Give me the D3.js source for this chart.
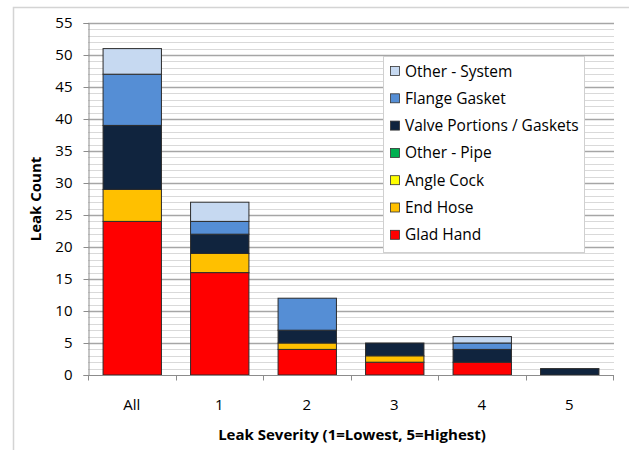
<!DOCTYPE html>
<html>
<head>
<meta charset="utf-8">
<script src="https://cdn.jsdelivr.net/npm/d3@7"></script>
<style>
  html, body { margin: 0; padding: 0; background: #fff; }
  svg { display: block; font-family: "Open Sans", "Liberation Sans", sans-serif; }
</style>
</head>
<body>
<svg id="chart" width="629" height="450"></svg>
<script>
// Leak counts by severity, stacked by component
const categories = ["All", "1", "2", "3", "4", "5"];
const seriesNames = ["Glad Hand", "End Hose", "Angle Cock", "Other - Pipe",
                     "Valve Portions / Gaskets", "Flange Gasket", "Other - System"];
const gladHand     = [24, 16, 4, 2, 2, 0];
const endHose      = [5, 3, 1, 1, 0, 0];
const angleCock    = [0, 0, 0, 0, 0, 0];
const otherPipe    = [0, 0, 0, 0, 0, 0];
const valveGaskets = [10, 3, 2, 2, 2, 1];
const flangeGasket = [8, 2, 5, 0, 1, 0];
const otherSystem  = [4, 3, 0, 0, 1, 0];
const seriesColors = ["#FF0000", "#FFC000", "#FFFF00", "#00B050", "#10243E", "#558ED5", "#C6D9F1"];
const yTicks = [0, 5, 10, 15, 20, 25, 30, 35, 40, 45, 50, 55];

const seriesValues = [gladHand, endHose, angleCock, otherPipe, valveGaskets, flangeGasket, otherSystem];
const rows = categories.map((c, i) => {
  const r = { category: c };
  seriesNames.forEach((s, j) => { r[s] = seriesValues[j][i]; });
  return r;
});

const svg = d3.select("#chart");
const plot = { left: 88, right: 613, top: 23, bottom: 375 };

// chart frame
svg.append("rect")
  .attr("x", 13.5).attr("y", 7.5)
  .attr("width", 640).attr("height", 460)
  .attr("fill", "#fff").attr("stroke", "#d4d4d4").attr("stroke-width", 1.5);

const x = d3.scaleBand().domain(categories)
  .range([plot.left, plot.right]).paddingInner(0.333).paddingOuter(0.1665);
const y = d3.scaleLinear().domain([0, 55]).range([plot.bottom, plot.top]);

// minor gridlines (every 1)
const minor = d3.range(1, 56).filter(v => v % 5 !== 0);
svg.append("g").selectAll("line").data(minor).join("line")
  .attr("x1", plot.left).attr("x2", plot.right + 1)
  .attr("y1", d => Math.round(y(d)) + 0.5).attr("y2", d => Math.round(y(d)) + 0.5)
  .attr("stroke", "#d9d9d9").attr("stroke-width", 1);

// major gridlines
svg.append("g").selectAll("line").data(yTicks.filter(v => v > 0)).join("line")
  .attr("x1", plot.left).attr("x2", plot.right + 1)
  .attr("y1", d => Math.round(y(d)) + 0.5).attr("y2", d => Math.round(y(d)) + 0.5)
  .attr("stroke", "#a6a6a6").attr("stroke-width", 1.3);

// stacked bars
const stack = d3.stack().keys(seriesNames)(rows);
const layers = svg.append("g").selectAll("g").data(stack).join("g")
  .attr("fill", (d, i) => seriesColors[i]);
layers.selectAll("rect").data(d => d.filter(p => p[1] - p[0] > 0)).join("rect")
  .attr("x", d => x(d.data.category) + 0.5)
  .attr("width", x.bandwidth())
  .attr("y", d => y(d[1]))
  .attr("height", d => y(d[0]) - y(d[1]))
  .attr("stroke", "#2b2b2b").attr("stroke-width", 1);

// y axis
const yAxis = svg.append("g").attr("transform", `translate(${plot.left + 0.5},0)`)
  .call(d3.axisLeft(y).tickValues(yTicks).tickSize(5).tickPadding(11));
yAxis.select(".domain").attr("stroke", "#8c8c8c");
yAxis.selectAll(".tick line").attr("stroke", "#8c8c8c");
yAxis.selectAll("text").attr("font-size", 15).attr("fill", "#000")
  .attr("font-family", "Open Sans, sans-serif");

// x axis, ticks at category boundaries
const xAxis = svg.append("g").attr("transform", `translate(0,${plot.bottom + 0.5})`);
xAxis.append("line").attr("x1", plot.left).attr("x2", plot.right + 1)
  .attr("stroke", "#8c8c8c");
const bounds = d3.range(categories.length + 1).map(i => plot.left + i * x.step());
xAxis.selectAll(".b").data(bounds).join("line")
  .attr("x1", d => Math.round(d) + 0.5).attr("x2", d => Math.round(d) + 0.5)
  .attr("y1", 0).attr("y2", 5).attr("stroke", "#8c8c8c");
xAxis.selectAll("text").data(categories).join("text")
  .attr("x", d => x(d) + x.bandwidth() / 2)
  .attr("y", 34).attr("text-anchor", "middle")
  .attr("font-size", 15).attr("fill", "#000").text(d => d);

// axis titles
svg.append("text")
  .attr("transform", "translate(41,199) rotate(-90)")
  .attr("text-anchor", "middle").attr("font-size", 15).attr("font-weight", "bold")
  .text("Leak Count");
svg.append("text")
  .attr("x", 352).attr("y", 440).attr("text-anchor", "middle")
  .attr("font-size", 15).attr("font-weight", "bold")
  .text("Leak Severity (1=Lowest, 5=Highest)");

// legend (top entry is the top of the stack)
const legend = svg.append("g");
legend.append("rect").attr("x", 383.5).attr("y", 56.5).attr("width", 201).attr("height", 196)
  .attr("fill", "#fff").attr("stroke", "#d0d0d0");
const legendItems = seriesNames.map((s, i) => ({ name: s, color: seriesColors[i] })).reverse();
const li = legend.selectAll("g").data(legendItems).join("g")
  .attr("transform", (d, i) => `translate(390,${71 + i * 27.3})`);
li.append("rect").attr("x", 0.5).attr("y", -4.5).attr("width", 9).attr("height", 9)
  .attr("fill", d => d.color).attr("stroke", "#333").attr("stroke-width", 0.8);
li.append("text").attr("x", 15).attr("y", 5.5).attr("font-size", 15.5).attr("fill", "#000")
  .text(d => d.name);
</script>
</body>
</html>
